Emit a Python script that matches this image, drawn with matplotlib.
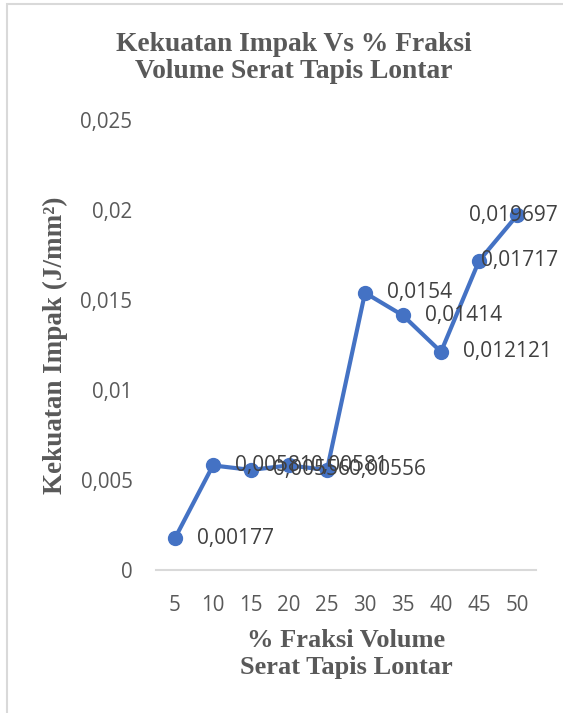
import matplotlib
matplotlib.use("Agg")
import matplotlib.pyplot as plt
from matplotlib.patches import Rectangle
from matplotlib.transforms import blended_transform_factory

# Data
fraksi = ["5", "10", "15", "20", "25", "30", "35", "40", "45", "50"]
kekuatan = [0.00177, 0.00581, 0.00556, 0.00581, 0.00556,
            0.0154, 0.01414, 0.012121, 0.01717, 0.019697]
y_ticks = [0, 0.005, 0.01, 0.015, 0.02, 0.025]
y_tick_labels = ["0", "0,005", "0,01", "0,015", "0,02", "0,025"]

W, H = 563, 713
fig = plt.figure(figsize=(W / 100, H / 100), dpi=100)
fig.patch.set_facecolor("white")

# Chart frame
fig.add_artist(Rectangle((6.5 / W, -0.1), 1.2, 1 - 4 / H + 0.1,
                         transform=fig.transFigure, fill=False,
                         edgecolor="#D9D9D9", linewidth=1.5))

ax = fig.add_axes([156 / W, 1 - 570 / H, 380 / W, 450 / H])
x = list(range(len(fraksi)))
line_color = "#4472C4"
ax.plot(x, kekuatan, color=line_color, linewidth=3.0, marker="o",
        markersize=10, zorder=3, solid_capstyle="round")

ax.set_xlim(-0.5, len(fraksi) - 0.5)
ax.set_ylim(0, 0.025)
ax.set_xticks(x)
ax.set_xticklabels(fraksi)
ax.set_yticks(y_ticks)
ax.set_yticklabels(y_tick_labels)

sans = ["Open Sans", "DejaVu Sans"]
for lab in ax.get_xticklabels() + ax.get_yticklabels():
    lab.set_fontfamily(sans)
    lab.set_fontsize(14.8)
    lab.set_color("#595959")
ax.tick_params(axis="both", length=0)
ax.tick_params(axis="x", pad=18)
ax.tick_params(axis="y", pad=17)

for side in ["top", "right", "left"]:
    ax.spines[side].set_visible(False)
ax.spines["bottom"].set_color("#D9D9D9")
ax.spines["bottom"].set_linewidth(1.5)

# Data labels; the last two are pulled in to stay inside the chart frame
edge = blended_transform_factory(fig.transFigure, ax.transData)
n = len(kekuatan)
for i, v in enumerate(kekuatan):
    txt = str(v).replace(".", ",")
    style = dict(va="center", color="#404040", fontsize=15, family=sans,
                 zorder=4, annotation_clip=False)
    if i >= n - 2:
        ax.annotate(txt, xy=(558 / W, v), xycoords=edge, ha="right", **style)
    else:
        ax.annotate(txt, (i, v), xytext=(16, 0), textcoords="offset points",
                    ha="left", **style)

serif = ["Liberation Serif", "DejaVu Serif"]
fig.text(294 / W, 1 - 58 / H, "Kekuatan Impak Vs % Fraksi\nVolume Serat Tapis Lontar",
         ha="center", va="center", fontsize=19.8, fontweight="bold",
         family=serif, color="#595959", linespacing=1.15)
fig.text(346 / W, 1 - 654 / H, "% Fraksi Volume\nSerat Tapis Lontar",
         ha="center", va="center", fontsize=19, fontweight="bold",
         family=serif, color="#595959", linespacing=1.25)
fig.text(55 / W, 1 - 345 / H, "Kekuatan Impak (J/mm²)",
         ha="center", va="center", rotation=90, fontsize=19.5,
         fontweight="bold", family=serif, color="#595959")

fig.savefig("out.png", dpi=100, facecolor="white")
